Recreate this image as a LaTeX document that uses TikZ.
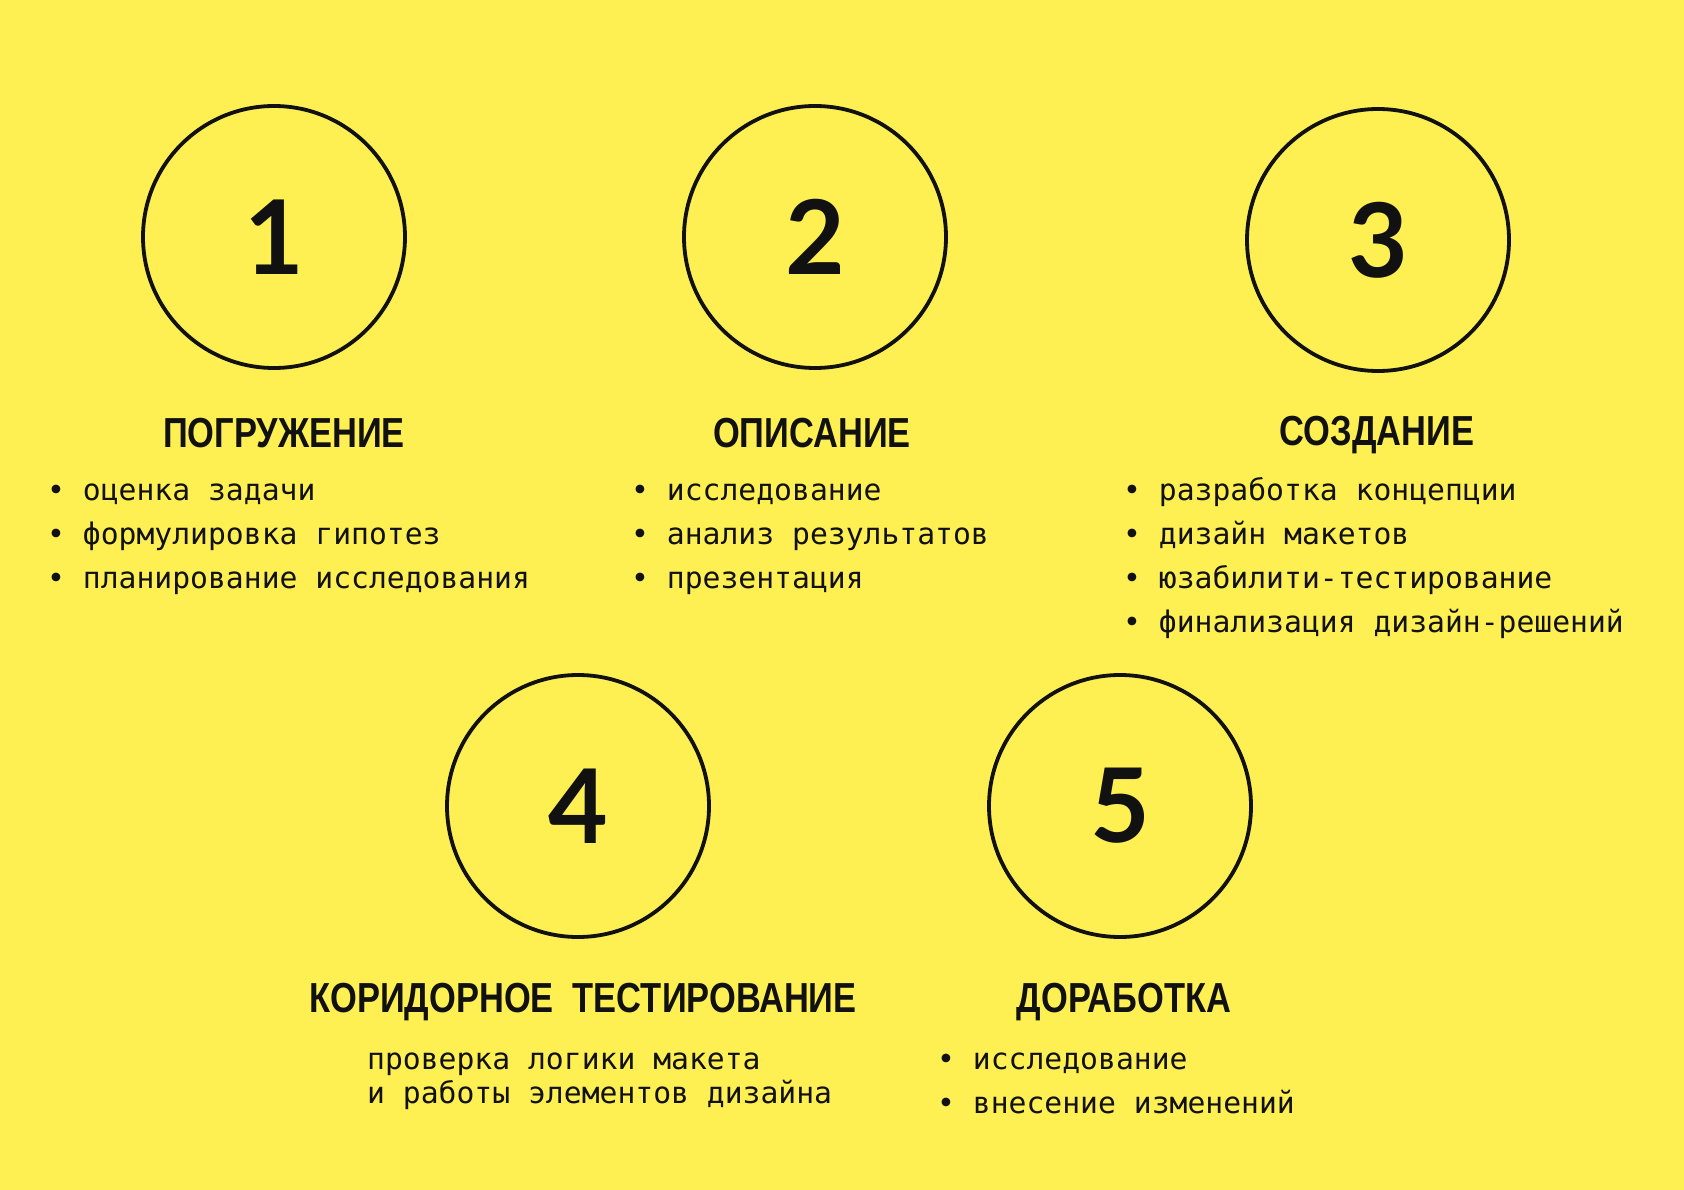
\documentclass[tikz,border=0pt]{standalone}
\usepackage{fontspec}
\newfontfamily\numfont{Lato}
\newfontfamily\titlefont[FakeStretch=0.82]{Liberation Sans}
\newfontfamily\bodyfont{DejaVu Sans Mono}
\definecolor{bgyellow}{RGB}{254,239,82}
\definecolor{ink}{RGB}{17,17,17}
\tikzset{
  numcircle/.style={circle, draw=ink, line width=3.8pt, minimum size=262pt, inner sep=0pt,
    font=\numfont\bfseries\fontsize{103}{103}\selectfont, text=ink},
  stagetitle/.style={anchor=base, inner sep=0pt, text=ink,
    font=\titlefont\bfseries\fontsize{42}{42}\selectfont},
  bodyline/.style={anchor=base west, inner sep=0pt, text=ink,
    font=\bodyfont\fontsize{29.7}{34}\selectfont}
}
\begin{document}
\begin{tikzpicture}[x=1pt,y=-1pt]
\fill[bgyellow] (0,0) rectangle (1684,1190);
\useasboundingbox (0,0) rectangle (1684,1190);

% circles with numbers
\node[numcircle] (c1) at (274,237) {1};
\node[numcircle] (c2) at (815,237) {2};
\node[numcircle] (c3) at (1378,240) {3};
\node[numcircle] (c4) at (578,806) {4};
\node[numcircle] (c5) at (1120,806) {5};

% titles
\node[stagetitle] (t1) at (284,447) {ПОГРУЖЕНИЕ};
\node[stagetitle] (t2) at (812,447) {ОПИСАНИЕ};
\node[stagetitle] (t3) at (1377,445) {СОЗДАНИЕ};
\node[stagetitle] (t4) at (583,1012) {КОРИДОРНОЕ\ \ ТЕСТИРОВАНИЕ};
\node[stagetitle] (t5) at (1124,1012) {ДОРАБОТКА};

% column 1
\node[bodyline] (a1) at (47,500) {• оценка задачи};
\node[bodyline] (a2) at (47,544) {• формулировка гипотез};
\node[bodyline] (a3) at (47,588) {• планирование исследования};

% column 2
\node[bodyline] (b1) at (631,500) {• исследование};
\node[bodyline] (b2) at (631,544) {• анализ результатов};
\node[bodyline] (b3) at (631,588) {• презентация};

% column 3
\node[bodyline] (d1) at (1123,500) {• разработка концепции};
\node[bodyline] (d2) at (1123,544) {• дизайн макетов};
\node[bodyline] (d3) at (1123,588) {• юзабилити-тестирование};
\node[bodyline] (d4) at (1123,632) {• финализация дизайн-решений};

% column 4
\node[bodyline] (e1) at (367,1069) {проверка логики макета};
\node[bodyline] (e2) at (367,1103) {и работы элементов дизайна};

% column 5
\node[bodyline] (f1) at (937,1069) {• исследование};
\node[bodyline] (f2) at (937,1113) {• внесение изменений};
\end{tikzpicture}
\end{document}
